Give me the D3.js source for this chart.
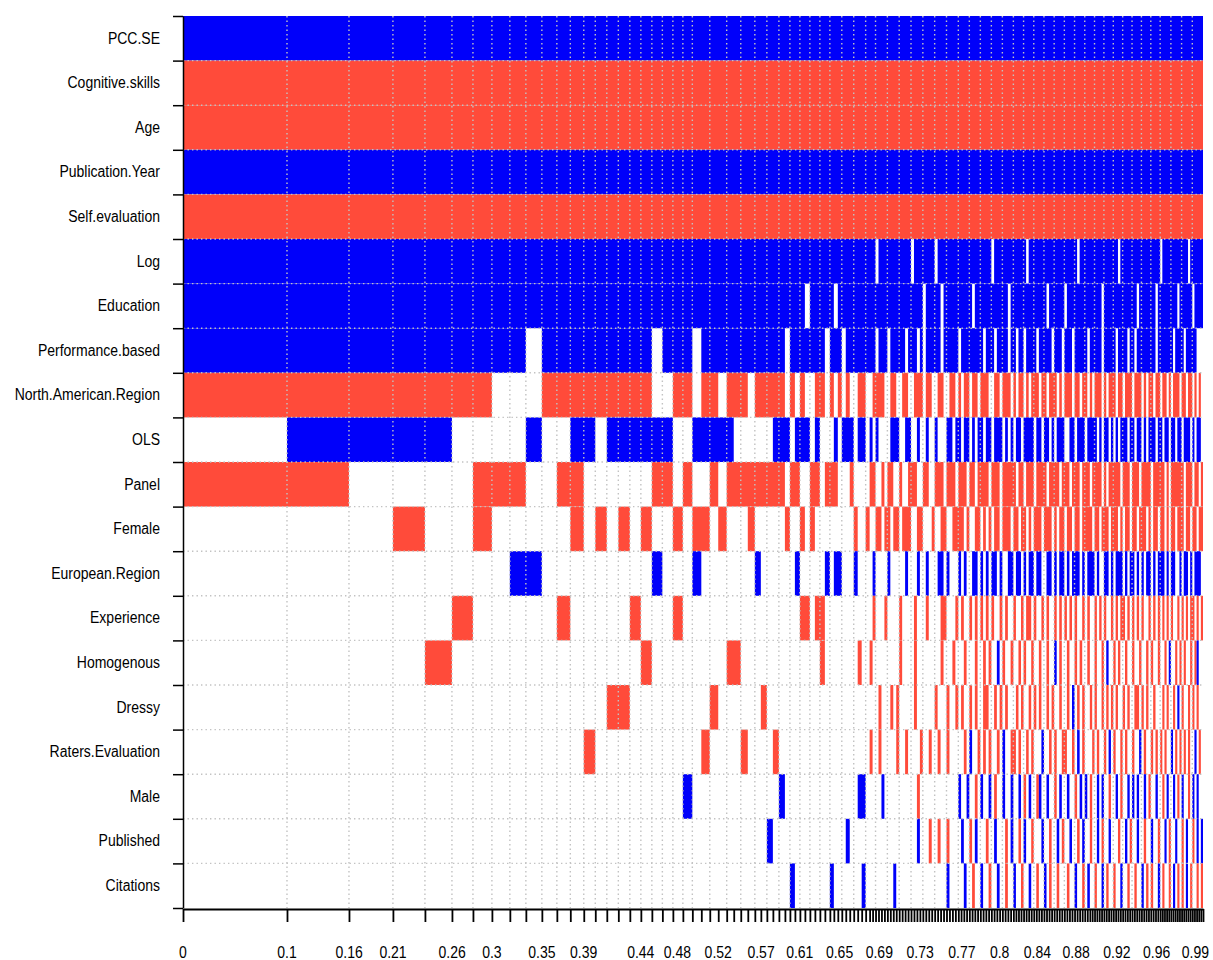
<!DOCTYPE html>
<html><head><meta charset="utf-8">
<script src="https://cdn.jsdelivr.net/npm/d3@7"></script>
<style>
body{margin:0;background:#fff;}
text{font-family:"Liberation Sans",Arial,sans-serif;}
</style>
</head><body>
<svg id="c" width="1213" height="960"></svg>
<script>
// ---------------- DATA ----------------
const variables = ["PCC.SE","Cognitive.skills","Age","Publication.Year","Self.evaluation","Log","Education",
  "Performance.based","North.American.Region","OLS","Panel","Female","European.Region","Experience",
  "Homogenous","Dressy","Raters.Evaluation","Male","Published","Citations"];

// posterior model probabilities (column widths), best model first
const pmp = [
 0.1020,0.0608,0.0431,0.0314,0.0265,0.0206,0.0186,0.0176,0.0157,0.0157,
 0.0147,0.0132,0.0132,0.0113,0.0113,0.0113,0.0113,0.0108,0.0108,0.0103,
 0.0103,0.0098,0.0093,0.0088,0.0083,0.0083,0.0083,0.0069,0.0069,0.0069,
 0.0069,0.0059,0.0059,0.0059,0.0059,0.0059,0.0049,0.0049,0.0049,0.0049,
 0.0049,0.0049,0.0049,0.0049,0.0049,
 0.0039,0.0039,0.0039,0.0039,0.0039,0.0039,0.0039,0.0039,0.0039,0.0039,
 0.0029,0.0029,0.0029,0.0029,0.0029,0.0029,0.0029,0.0029,0.0029,0.0029,
 0.0029,0.0029,0.0029,0.0029,0.0029,0.0029,0.0029,0.0029,0.0029,0.0029,
 0.0029,0.0029,0.0029,0.0029,0.0029,0.0029,0.0029,0.0029,0.0029,0.0029,
 0.0027,0.0027,0.0027,0.0027,0.0027,0.0027,0.0027,0.0027,0.0027,0.0027,
 0.0027,0.0027,0.0027,0.0027,0.0027,0.0027,0.0027,0.0027,0.0027,0.0027,
 0.0025,0.0025,0.0025,0.0025,0.0025,0.0025,0.0025,0.0025,0.0025,0.0025,
 0.0025,0.0025,0.0025,0.0025,0.0025,0.0025,0.0025,0.0025,0.0025,0.0025,
 0.0025,0.0025,0.0025,0.0025,0.0025,0.0025,0.0025,0.0025,0.0025,0.0025,
 0.0023,0.0023,0.0023,0.0023,0.0023,0.0023,0.0023,0.0023,0.0023,0.0023,
 0.0023,0.0023,0.0023,0.0023,0.0023,0.0023,0.0023,0.0023,0.0023,0.0023,
 0.0023,0.0023,0.0023,0.0023,0.0023,0.0023,0.0023,0.0023,0.0023,0.0023,
 0.0021,0.0021,0.0021,0.0021,0.0021,0.0021,0.0021,0.0021,0.0021,0.0021,
 0.0021,0.0021,0.0021,0.0021,0.0021,0.0021,0.0021,0.0021,0.0021,0.0021
];

// inclusion per variable, one character per model: "+" positive, "-" negative, "." excluded
const sPCC = ["++++++++++","++++++++++","++++++++++","++++++++++","+++++","++++++++++",
 "++++++++++","++++++++++","++++++++++",
 "++++++++++","++++++++++","++++++++++","++++++++++","++++++++++","++++++++++","++++++++++","++++++++++","++++++++++","++++++++++"];
const sCog = ["----------","----------","----------","----------","-----","----------",
 "----------","----------","----------",
 "----------","----------","----------","----------","----------","----------","----------","----------","----------","----------"];
const sAge = ["----------","----------","----------","----------","-----","----------",
 "----------","----------","----------",
 "----------","----------","----------","----------","----------","----------","----------","----------","----------","----------"];
const sPubYear = ["++++++++++","++++++++++","++++++++++","++++++++++","+++++","++++++++++",
 "++++++++++","++++++++++","++++++++++",
 "++++++++++","++++++++++","++++++++++","++++++++++","++++++++++","++++++++++","++++++++++","++++++++++","++++++++++","++++++++++"];
const sSelf = ["----------","----------","----------","----------","-----","----------",
 "----------","----------","----------",
 "----------","----------","----------","----------","----------","----------","----------","----------","----------","----------"];
const sLog = ["++++++++++","++++++++++","++++++++++","++++++++++","+++++","++++++++++",
 "++.+++++++","++++.+++++","++.+++++++",
 "++++++++++","++.+++++++","+++++.++++","++++++++++","+++++.++++","++++++++++","++.+++++++","++++++++++",".+++++++++","+++.++++++"];
const sEdu = ["++++++++++","++++++++++","++++++++++","++++++++++",".++++","+.++++++++",
 "++++++++++","++++++++.+","++++.+++++",
 "+++++.++++","++++++++.+","++++++++++","+++.++++++",".+++++++++","+++++.++++","++++++++++",".+++++++.+","++++++++.+","+++++.++++"];
const sPerf = ["+++++++++.","+++++++++.","+++.++++++","++++++.+++","++++.","+++.++++++",
 "++.+++.+++","++.+++.+.+","++++.+++++",
 ".++++++++.","+++.++++.+","+.++.++++.","+++++.+++.","+++.+++++.","+++++.++++","+.++++.++.","++++++++.+","++++++.+++","+.+++++..."];
const sNA = ["-------...","---------.",".--.--.---",".-----.-.-","..--.","-.-.-..--.",
 ".----..--.",".--..---.-","-..--..--.",
 "-.--.--.--","-..--.---.","-.--.-.---",".--.---.-.","---.--.--.","-.---.-.--","-.--.---.-","--.-.--.--",".--.-.---.","--.--.-.-."];
const sOLS = [".++++....+","..++.+++++","+..+++++..","....+++.++","+.+..",".+.+++.++.",
 "+.+....+++","..++..+..+","..+...++.+",
 "+.++.+.++.","++.+++.+.+",".++.++++.+","+.++.+.+++","..++.+++.+","+++.+.++.+",".+.+++.++.","++.+.+++.+","+.++.++.++",".+++.+.++."];
const sPanel = ["--....---.",".--......-","-.-..-.---","------.--.",".--.-","--...-....",
 "--..-.--..","-..---..--","..---.---.",
 "---.--.---","-.---.----","-.--.---.-","---.----.-","--.---.---",".----.-.--","---.---.--","-.----.---","--.-.-----","-.---.--.-"];
const sFemale = ["...-..-...","..-.-.-.-.",".-.--.-...","-.....-..-",".-...","......-..-",
 "..--.--.--",".---..--..",".-..--..--",
 "--.-..--.-",".-.--.---.","--.--.-.--","-.---.-.--",".--.--.---","-.--.---.-","--.-.--.--",".---.-.--.","--.-.--.--","-.--.--.--"];
const sEur = ["........++",".........+","...+......",".+......+.","....+",".++...+...",
 ".+....+...","..+...+..+","...++.+...",
 "+.+..++.+.","+.++.+..++",".++.+.++.+","+..++.+.++",".+.+++.+.+","++.+..++.+",".+++.+.++.","+.+.++.+.+","++.+.++..+",".++.+.+++."];
const sExp = [".....-....",".-.....-..",".-........",".........-","-.--.","..........",
 ".-...-....","-....-...-","....--...-",
 ".-..-.-.-.","-.-..-.-..","-..-.--.-.",".-.-..-.-.","-.-.-..-.-","..-.-.-..-",".-.--.-.-.","-.-..-.-.-",".-.-.-..-.","-.-.--.-.-"];
const sHomog = ["....-.....","........-.",".......--.","..........","...-.",".......-..",
 "-.........","-....-....","....-...-.",
 "..-...-..-",".-..+.-..-","..-.-..-..","-..-..+.-.",".-..-.-..-","..-..-.+..","-.-..-..-.",".-..-.-..-","..-.+..-.-",".-..-.-+.."];
const sDressy = ["..........",".....--...",".....-....","..-.......",".....","..........",
 "...-...-.-",".....-....","..-...-..-",
 ".-..-.-..-","-..-.-.-..",".-.-..-.-.","-..-.-..-.",".-.+.-.-..","-.-..-.-.-",".-..-.-..-","-.-.-..-..",".-.-..-.+.","-..-.-.-.."];
const sRaters = ["..........","...-......","....-....-","....-.....",".....","..........",
 "-..-.....-","..-....-..","-..-..-...",
 "..-.+..-.-",".-..-.+..-","-.-..-.-..",".+..-.-..-","-..-.+.-..",".-.-..-.+.","-..-.-..-.",".+.-..-.-.","-.-..+.-.-",".-.-..+.-."];
const sMale = ["..........","..........","..+.......",".....+....",".....",".......++.",
 "....+.....","......-...","..........",
 "+..+..-.+.",".+.-..+..+","..+.-.+..-","+..+..-.+.",".+..-.+.+.","-..+.+..-.",".+.-..+.+.","+..+.-..+.",".-.+..+.-.","+..-.+.+.."];
const sPublished = ["..........","..........","..........","...+......",".....","....+.....",
 "..........","......+...","-..-..-...",
 ".+..-.+...","-..+...-.+","..-.+..-..",".+..-..+.-","..+..-.+..","-..+.-..+.","..-..+.-..","+..-..+..-","..+.-..+..","-.+..-.+.+"];
const sCitations = ["..........","..........","..........",".......+..",".....","+.......+.",
 "........+.","..........","......+...",
 "..+..-..+.",".-..+..-..","+..-..+..-","..+.-..-..",".-..+..-.+","..-..+.-..","-..+..-..-","..+.-.-..+",".-..-.+.-.","-.+.-..-.-"];

const signChunks = [sPCC,sCog,sAge,sPubYear,sSelf,sLog,sEdu,sPerf,sNA,sOLS,sPanel,sFemale,sEur,sExp,
  sHomog,sDressy,sRaters,sMale,sPublished,sCitations];

// x-axis labels (cumulative model probabilities) and where they sit on the cumulative scale
const tickLabels = ["0","0.1","0.16","0.21","0.26","0.3","0.35","0.39","0.44","0.48","0.52","0.57",
  "0.61","0.65","0.69","0.73","0.77","0.8","0.84","0.88","0.92","0.96","0.99"];
const tickLabelAt = [0,0.102,0.163,0.206,0.264,0.303,0.352,0.393,0.449,0.485,0.525,0.567,
  0.605,0.644,0.683,0.723,0.764,0.801,0.838,0.876,0.916,0.955,0.993];

// ---------------- CHART ----------------
const svg = d3.select("#c");
const total = d3.sum(pmp);
const x = d3.scaleLinear().domain([0, total]).range([183, 1203]);
const y = d3.scaleBand().domain(variables).range([16, 908]);

const starts = []; let acc = 0;
pmp.forEach(w => { starts.push(acc); acc += w; });
const bounds = starts.concat([acc]);

const rows = signChunks.map(c => c.join(""));
const bad = rows.map((s,i)=>[variables[i], s.length]).filter(d => d[1] !== pmp.length);
if (bad.length) throw new Error("length mismatch " + JSON.stringify(bad) + " expected " + pmp.length);

const BLUE = "#0000fa", RED = "#ff4b3a";
const cells = [];
rows.forEach((s, r) => {
  let k = 0;
  while (k < s.length) {
    const c = s[k];
    if (c === "+" || c === "-") {
      let j = k;
      while (j + 1 < s.length && s[j + 1] === c) j++;
      cells.push({v: variables[r], sign: c, x0: starts[k], x1: starts[j] + pmp[j]});
      k = j + 1;
    } else k++;
  }
});

svg.append("g").selectAll("rect").data(cells).join("rect")
  .attr("x", d => x(d.x0))
  .attr("width", d => x(d.x1) - x(d.x0))
  .attr("y", d => y(d.v))
  .attr("height", y.bandwidth())
  .attr("fill", d => d.sign === "+" ? BLUE : RED);

// dotted grid
const grid = svg.append("g").attr("stroke", "#c2c2c2").attr("stroke-width", 1.4)
  .attr("stroke-dasharray", "1.4,3.1").attr("fill", "none");
variables.slice(1).forEach(v => {
  grid.append("line").attr("x1", x(0)).attr("x2", x(total)).attr("y1", y(v)).attr("y2", y(v));
});
let lastX = x(0);
bounds.slice(1, -1).forEach(b => {
  const px = x(b);
  if (px - lastX >= 9 && x(total) - px >= 4) {
    grid.append("line").attr("x1", px).attr("x2", px).attr("y1", 16).attr("y2", 908);
    lastX = px;
  }
});

// left axis: labels at row centres, ticks at row boundaries
const gl = svg.append("g").attr("transform", "translate(183,0)")
  .call(d3.axisLeft(y).tickSize(0).tickPadding(23));
gl.select(".domain").remove();
gl.selectAll("text").attr("font-size", 14).attr("fill", "#000")
  .attr("font-family", "'Liberation Sans', Arial, sans-serif")
  .attr("transform", "scale(1,1.17)");

const yb = d3.scaleLinear().domain([0, variables.length]).range(y.range());
const gb = svg.append("g").attr("transform", "translate(183,0)")
  .call(d3.axisLeft(yb).tickValues(d3.range(variables.length + 1)).tickSize(10).tickSizeOuter(0).tickFormat(""));
gb.selectAll("line,path").attr("stroke", "#000").attr("stroke-width", 1.5);

// bottom axis: a tick at every model boundary
const gx = svg.append("g").attr("transform", "translate(0,909)")
  .call(d3.axisBottom(x).tickValues(bounds).tickSize(13).tickSizeOuter(0).tickFormat(""));
gx.select(".domain").attr("stroke", "#000").attr("stroke-width", 2);
gx.selectAll(".tick line").attr("stroke", "#000").attr("stroke-width", 1.8);

svg.append("g").selectAll("text").data(tickLabels).join("text")
  .attr("transform", (d, i) => `translate(${x(tickLabelAt[i])},946) scale(1,1.17)`)
  .attr("dy", "0.71em")
  .attr("text-anchor", "middle")
  .attr("font-size", 14)
  .attr("fill", "#000")
  .text(d => d);
</script>
</body></html>
